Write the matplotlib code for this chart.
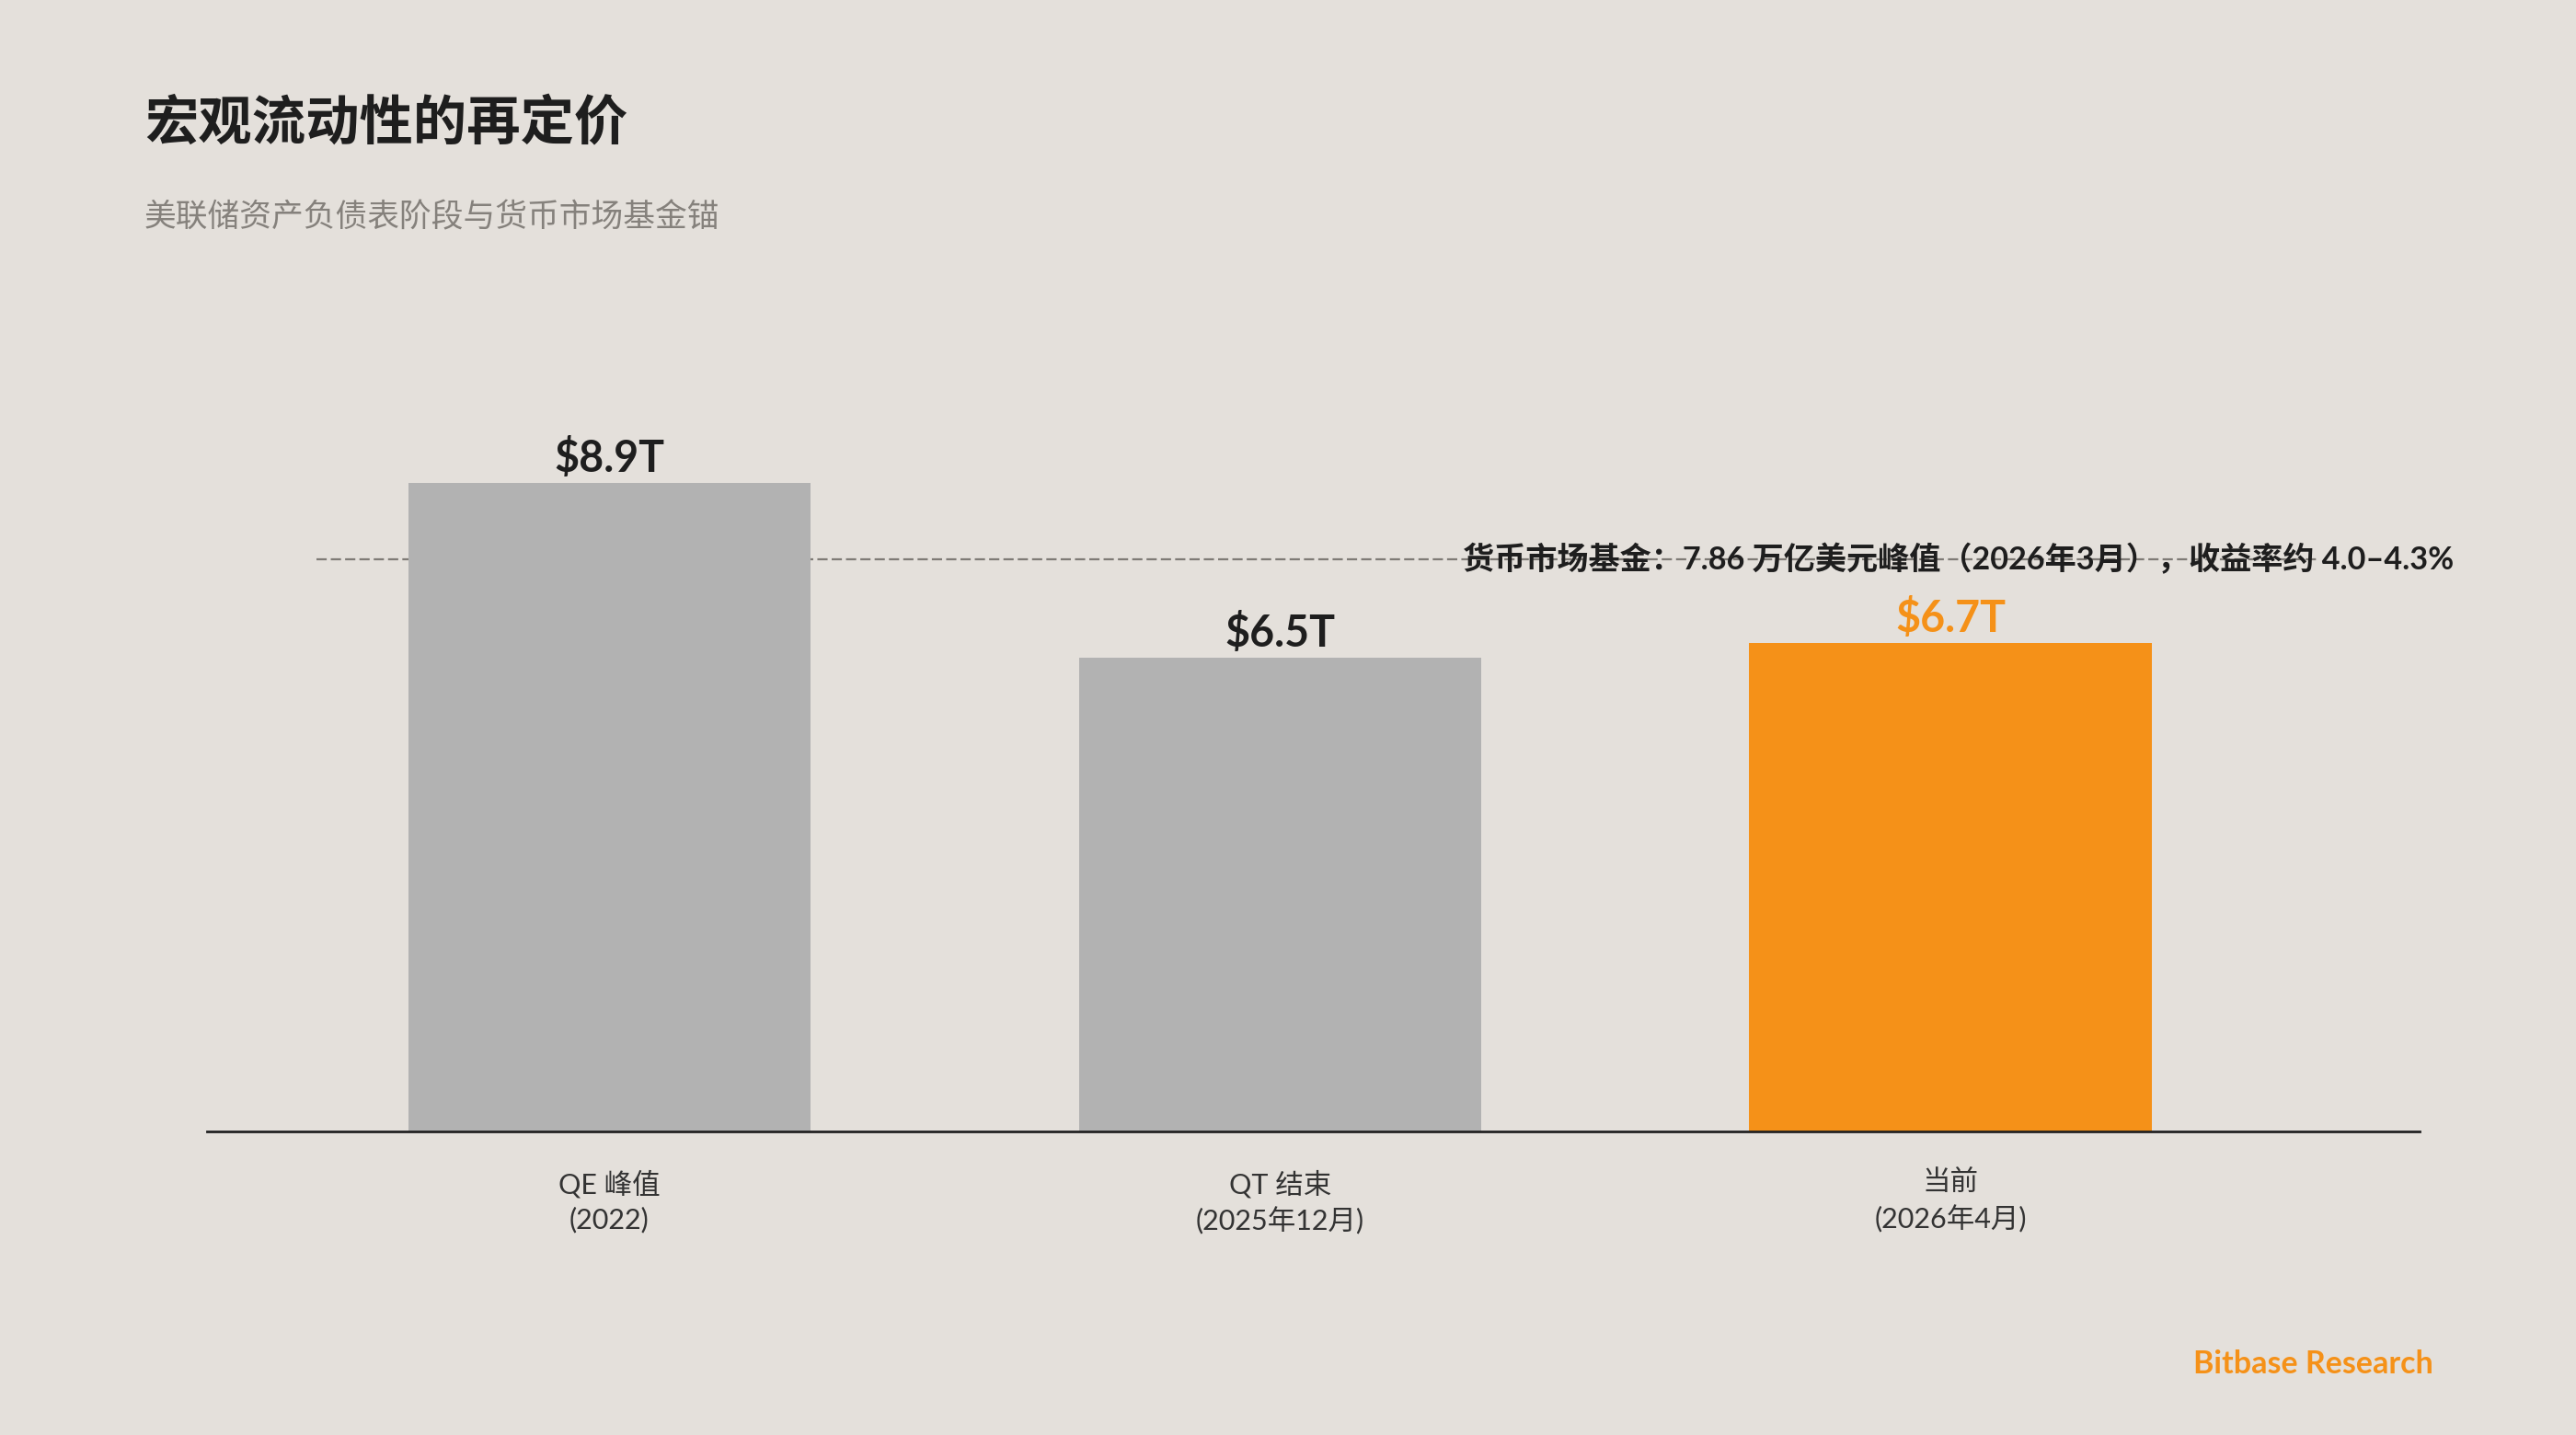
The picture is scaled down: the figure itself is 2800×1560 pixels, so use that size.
import matplotlib.pyplot as plt

plt.rcParams['font.family'] = ['Lato', 'Noto Sans CJK SC', 'DejaVu Sans']

categories = ['QE 峰值\n(2022)', 'QT 结束\n(2025年12月)', '当前\n(2026年4月)']
balance_tn = [8.9, 6.5, 6.7]
value_labels = ['$8.9T', '$6.5T', '$6.7T']
mmf_peak = 7.86
mmf_note = '货币市场基金：7.86 万亿美元峰值（2026年3月），收益率约 4.0–4.3%'

bg = '#E4E0DB'
gray = '#B2B2B2'
orange = '#F59118'
ink = '#1E1E1E'
bar_colors = [gray, gray, orange]
label_colors = [ink, ink, orange]

fig = plt.figure(figsize=(28, 15.6), dpi=100, facecolor=bg)
ax = fig.add_axes([0.0804, 0.2115, 0.859, 0.5077], facecolor=bg)

x = range(len(categories))
bars = ax.bar(x, balance_tn, width=0.6, color=bar_colors, zorder=2)

for b, lab, c in zip(bars, value_labels, label_colors):
    ax.annotate(lab, (b.get_x() + b.get_width() / 2, b.get_height()),
                xytext=(0, 3), textcoords='offset points',
                ha='center', va='bottom', fontsize=33.5, fontweight='bold', color=c)

# money market fund reference line
ax.hlines(mmf_peak, -0.437, 2.55, colors='#7F7B76', linewidth=1.6,
          linestyles=(0, (5, 2)), zorder=1)
ax.text(1.272, mmf_peak, mmf_note, ha='left', va='center', fontsize=24.6,
        fontweight='bold', color=ink, zorder=3)

ax.set_xlim(-0.6, 2.7)
ax.set_ylim(0, 10)
ax.set_xticks(list(x))
ax.set_xticklabels(categories, fontsize=22, color='#333333', linespacing=1.4)
ax.tick_params(axis='x', length=0, pad=30)
ax.set_yticks([])
for s in ['left', 'right', 'top']:
    ax.spines[s].set_visible(False)
ax.spines['bottom'].set_color('#222222')
ax.spines['bottom'].set_linewidth(2)

fig.text(157 / 2800, 1 - 133 / 1560, '宏观流动性的再定价', fontsize=42,
         fontweight='bold', color=ink, va='center', ha='left')
fig.text(157 / 2800, 1 - 236 / 1560, '美联储资产负债表阶段与货币市场基金锚', fontsize=25,
         color='#85817C', va='center', ha='left')
fig.text(2645 / 2800, 1 - 1483 / 1560, 'Bitbase Research', fontsize=24.5,
         fontweight='bold', color=orange, va='center', ha='right')

fig.savefig('out.png', dpi=100, facecolor=bg)
